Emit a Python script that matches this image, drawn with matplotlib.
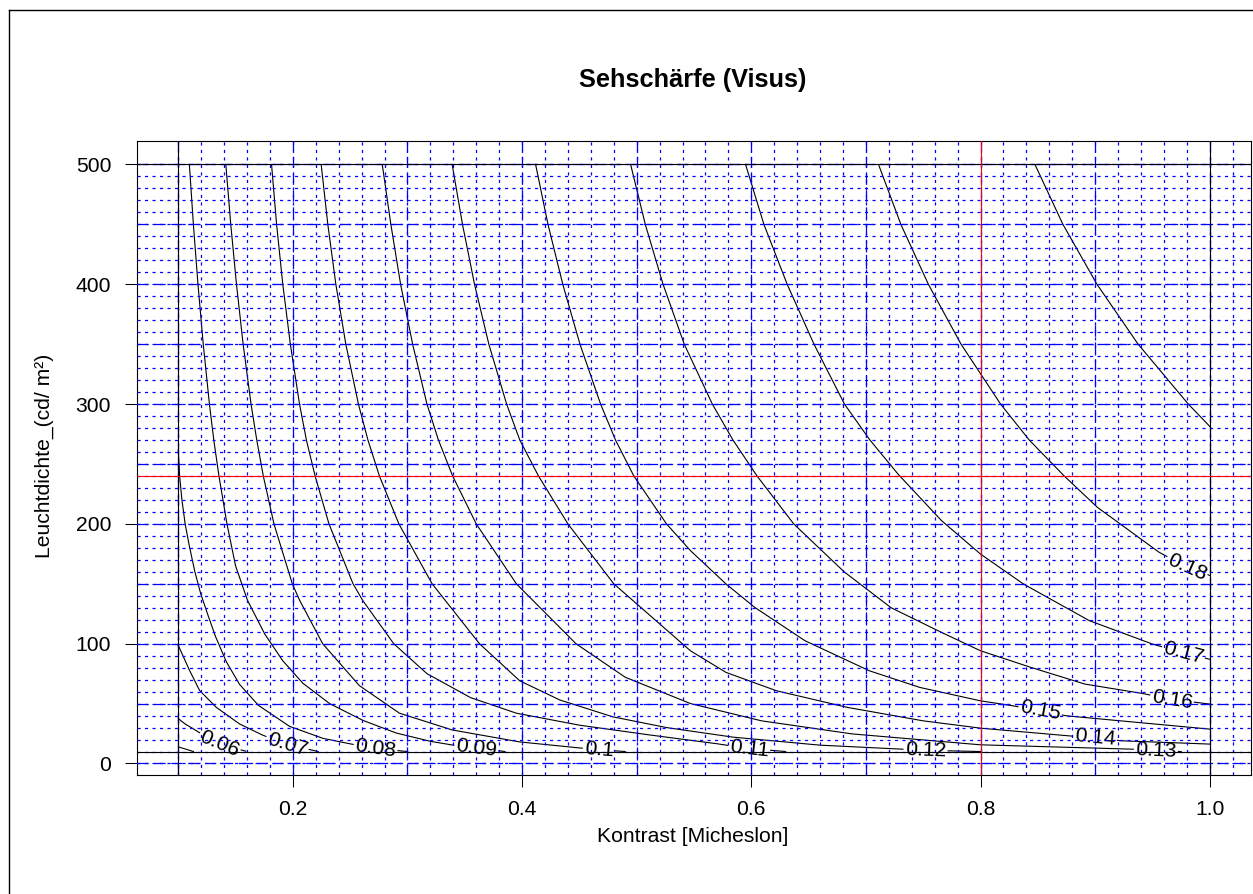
import matplotlib
matplotlib.use('Agg')
import matplotlib.pyplot as plt
from matplotlib.lines import Line2D
import numpy as np

plt.rcParams['font.family'] = ['Liberation Sans', 'DejaVu Sans']

# contour lines: x = Kontrast, y = Leuchtdichte
lev05_x = [0.100, 0.1133]
lev05_y = [13.9, 10.0]
lev06_x = [0.100, 0.106, 0.113, 0.124, 0.136, 0.148, 0.159]
lev06_y = [37.5, 33.0, 29.0, 22.5, 16.7, 13.0, 10.3]
lev07_x = [0.100, 0.1098, 0.1186, 0.133, 0.1535, 0.1738, 0.1948, 0.222]
lev07_y = [98.6, 77.8, 61.0, 47.0, 33.0, 23.6, 16.0, 10.0]
lev08_x = [0.100, 0.1012, 0.1032, 0.106, 0.110, 0.1145, 0.1195, 0.1255, 0.1325, 0.1419,
           0.1535, 0.170, 0.1971, 0.2262, 0.2495, 0.272, 0.300]
lev08_y = [262, 240, 220, 200, 180, 160, 142, 125, 106, 85, 66, 48.5, 31, 21, 16.5, 12.5, 10]
lev09_x = [0.1097, 0.1132, 0.1172, 0.1218, 0.1272, 0.131, 0.1355, 0.1425, 0.150, 0.1605,
           0.1755, 0.191, 0.2087, 0.2321, 0.2611, 0.290, 0.320, 0.345, 0.385]
lev09_y = [500, 450, 400, 350, 300, 270, 240, 200, 165, 136, 108, 86, 67, 50, 36, 25.5,
           18.5, 14.5, 10]
lev10_x = [0.1415, 0.1458, 0.1508, 0.1566, 0.1635, 0.1685, 0.1742, 0.1835, 0.1995, 0.206,
           0.226, 0.258, 0.293, 0.339, 0.398, 0.450, 0.467, 0.490]
lev10_y = [500, 450, 400, 350, 300, 270, 240, 200, 150, 136, 100, 65, 42, 28, 18, 13, 11.5, 10]
lev11_x = [0.1814, 0.1858, 0.1912, 0.1978, 0.2058, 0.2118, 0.2194, 0.2315, 0.2525, 0.261,
           0.288, 0.317, 0.355, 0.395, 0.450, 0.510, 0.570, 0.598, 0.630]
lev11_y = [500, 450, 400, 350, 300, 270, 240, 200, 150, 136, 100, 75, 55, 42, 32, 24, 16.5,
           12.5, 10]
lev12_x = [0.2247, 0.2305, 0.2375, 0.2462, 0.2572, 0.2655, 0.2755, 0.2925, 0.3215, 0.3628,
           0.398, 0.433, 0.479, 0.526, 0.584, 0.660, 0.752, 0.800]
lev12_y = [500, 450, 400, 350, 300, 270, 240, 200, 150, 100, 69, 53, 39, 30, 22, 15.3, 11, 10]
lev13_x = [0.278, 0.2855, 0.294, 0.3045, 0.317, 0.327, 0.3394, 0.360, 0.395, 0.447,
           0.490, 0.547, 0.609, 0.688, 0.800, 0.931, 0.953, 0.975]
lev13_y = [500, 450, 400, 350, 300, 270, 240, 200, 150, 100, 72, 50, 35.6, 24.7, 15.6, 12,
           11, 10]
lev14_x = [0.339, 0.348, 0.3585, 0.371, 0.3865, 0.398, 0.4143, 0.440, 0.480, 0.547,
           0.578, 0.622, 0.684, 0.750, 0.800, 0.878, 0.900, 0.922, 1.000]
lev14_y = [500, 450, 400, 350, 300, 270, 240, 200, 150, 94, 76, 60.7, 46.8, 35.6, 29.5,
           23, 21.7, 19, 16.2]
lev15_x = [0.4118, 0.4226, 0.4355, 0.4505, 0.4685, 0.4815, 0.4975, 0.526, 0.547, 0.578,
           0.603, 0.647, 0.703, 0.747, 0.800, 0.828, 0.852, 0.875, 1.000]
lev15_y = [500, 450, 400, 350, 300, 270, 240, 200, 177.6, 149.8, 130.3, 102.4, 77.4,
           63.5, 52.3, 48.2, 44, 39.8, 28.7]
lev16_x = [0.4947, 0.5075, 0.523, 0.5415, 0.566, 0.584, 0.605, 0.637, 0.681, 0.722,
           0.766, 0.800, 0.844, 0.891, 0.941, 0.967, 1.000]
lev16_y = [500, 450, 400, 350, 300, 270, 240, 200, 160, 130, 109.4, 94.1, 80.2, 66.3,
           58.5, 53.5, 49.6]
lev17_x = [0.595, 0.611, 0.6313, 0.6547, 0.6813, 0.7035, 0.728, 0.766, 0.800, 0.8375,
           0.895, 0.950, 0.978, 1.000]
lev17_y = [500, 450, 400, 350, 300, 270, 241.6, 202.7, 174.8, 149.8, 119.2, 99.7, 92, 87]
lev18_x = [0.711, 0.7305, 0.7545, 0.783, 0.8175, 0.8425, 0.873, 0.902, 0.956, 0.980, 1.000]
lev18_y = [500, 450, 400, 350, 300, 270, 240, 213.8, 176.2, 164, 157]
lev19_x = [0.8475, 0.8719, 0.9016, 0.9375, 0.9813, 1.000]
lev19_y = [500, 450, 400, 350, 300, 281.4]

levels = [0.05, 0.06, 0.07, 0.08, 0.09, 0.10, 0.11, 0.12, 0.13, 0.14, 0.15, 0.16, 0.17, 0.18, 0.19]
curves_x = [lev05_x, lev06_x, lev07_x, lev08_x, lev09_x, lev10_x, lev11_x, lev12_x,
            lev13_x, lev14_x, lev15_x, lev16_x, lev17_x, lev18_x, lev19_x]
curves_y = [lev05_y, lev06_y, lev07_y, lev08_y, lev09_y, lev10_y, lev11_y, lev12_y,
            lev13_y, lev14_y, lev15_y, lev16_y, lev17_y, lev18_y, lev19_y]
# where along x each contour carries its label (None = no label)
label_at = [None, 0.136, 0.195, 0.272, 0.36, 0.467, 0.598, 0.752, 0.953, 0.90,
            0.852, 0.967, 0.977, 0.98, None]

x_ticks = [0.2, 0.4, 0.6, 0.8, 1.0]
y_ticks = [0, 100, 200, 300, 400, 500]
ref_x, ref_y = 0.8, 240          # red cross hair
frame_x, frame_y = [0.1, 1.0], [10, 500]

W, H = 1253, 894
fig = plt.figure(figsize=(W / 100, H / 100), dpi=100)
ax = fig.add_axes([137 / W, 1 - 775 / H, (1251 - 137) / W, (775 - 141) / H])
ax.set_xlim(0.064, 1.036)
ax.set_ylim(-9.6, 519.6)

fs = 15.2
renderer = fig.canvas.get_renderer()
inv = ax.transData.inverted()

for lev, xs, ys, lx in zip(levels, curves_x, curves_y, label_at):
    xs = np.asarray(xs, float)
    ys = np.asarray(ys, float)
    if lx is None:
        ax.plot(xs, ys, color='black', lw=0.8, zorder=2)
        continue
    txt = f'{lev:g}'
    t = ax.text(0, 0, txt, fontsize=fs)
    half = t.get_window_extent(renderer).width / 2 + 2
    t.remove()
    pts = ax.transData.transform(np.column_stack([xs, ys]))
    s = np.concatenate([[0], np.cumsum(np.hypot(np.diff(pts[:, 0]), np.diff(pts[:, 1])))])
    s0 = np.interp(lx, xs, s)
    a, b = s0 - half, s0 + half

    def at(sv):
        return np.array([np.interp(sv, s, pts[:, 0]), np.interp(sv, s, pts[:, 1])])

    pa, pb = at(max(a, 0)), at(min(b, s[-1]))
    if a > 0:
        left = np.vstack([pts[s < a], pa])
        d = inv.transform(left)
        ax.plot(d[:, 0], d[:, 1], color='black', lw=0.8, zorder=2)
    if b < s[-1]:
        right = np.vstack([pb, pts[s > b]])
        d = inv.transform(right)
        ax.plot(d[:, 0], d[:, 1], color='black', lw=0.8, zorder=2)
    ang = np.degrees(np.arctan2(pb[1] - pa[1], pb[0] - pa[0]))
    c = inv.transform(at(s0))
    ax.text(c[0], c[1], txt, fontsize=fs, rotation=ang, rotation_mode='anchor',
            ha='center', va='center', zorder=3)

# blue help grid
blue = '#0000ff'
dot = (0, (2.5, 3.5))
dash = (0, (9.0, 4.5))
for gx in np.round(np.arange(0.10, 1.11, 0.02), 2):
    ax.axvline(gx, color=blue, lw=0.9, ls=dot, zorder=4)
for gy in range(0, 501, 10):
    ax.axhline(gy, color=blue, lw=0.9, ls=dot, zorder=4)
for gx in np.round(np.arange(0.1, 1.11, 0.1), 1):
    ax.axvline(gx, color=blue, lw=0.9, ls=dash, zorder=4)
for gy in range(0, 501, 50):
    ax.axhline(gy, color=blue, lw=0.9, ls=dash, zorder=4)

for fx in frame_x:
    ax.axvline(fx, color='black', lw=0.8, zorder=5)
for fy in frame_y:
    ax.axhline(fy, color='black', lw=0.8, zorder=5)
ax.axvline(ref_x, color='red', lw=0.8, zorder=5)
ax.axhline(ref_y, color='red', lw=0.8, zorder=5)

ax.set_xticks(x_ticks)
ax.set_xticklabels([f'{v:.1f}' for v in x_ticks])
ax.set_yticks(y_ticks)
ax.tick_params(direction='out', length=8.6, width=0.75, labelsize=fs)
ax.tick_params(axis='y', pad=10)
ax.tick_params(axis='x', pad=9.5)
for sp in ax.spines.values():
    sp.set_linewidth(0.8)

fig.text(693 / W, 1 - 80 / H, 'Sehschärfe (Visus)', fontsize=18.3, fontweight='bold',
         ha='center', va='center')
fig.text(693 / W, 1 - 836 / H, 'Kontrast [Micheslon]', fontsize=fs, ha='center', va='center')
fig.text(44 / W, 1 - 456 / H, 'Leuchtdichte_(cd/ m²)', fontsize=fs, rotation=90,
         ha='center', va='center')

# outer frame of the device
fig.add_artist(Line2D([9 / W, 9 / W], [0, 1 - 10 / H], color='black', lw=1))
fig.add_artist(Line2D([9 / W, 1], [1 - 10 / H, 1 - 10 / H], color='black', lw=1))

fig.savefig('out.png', dpi=100)
